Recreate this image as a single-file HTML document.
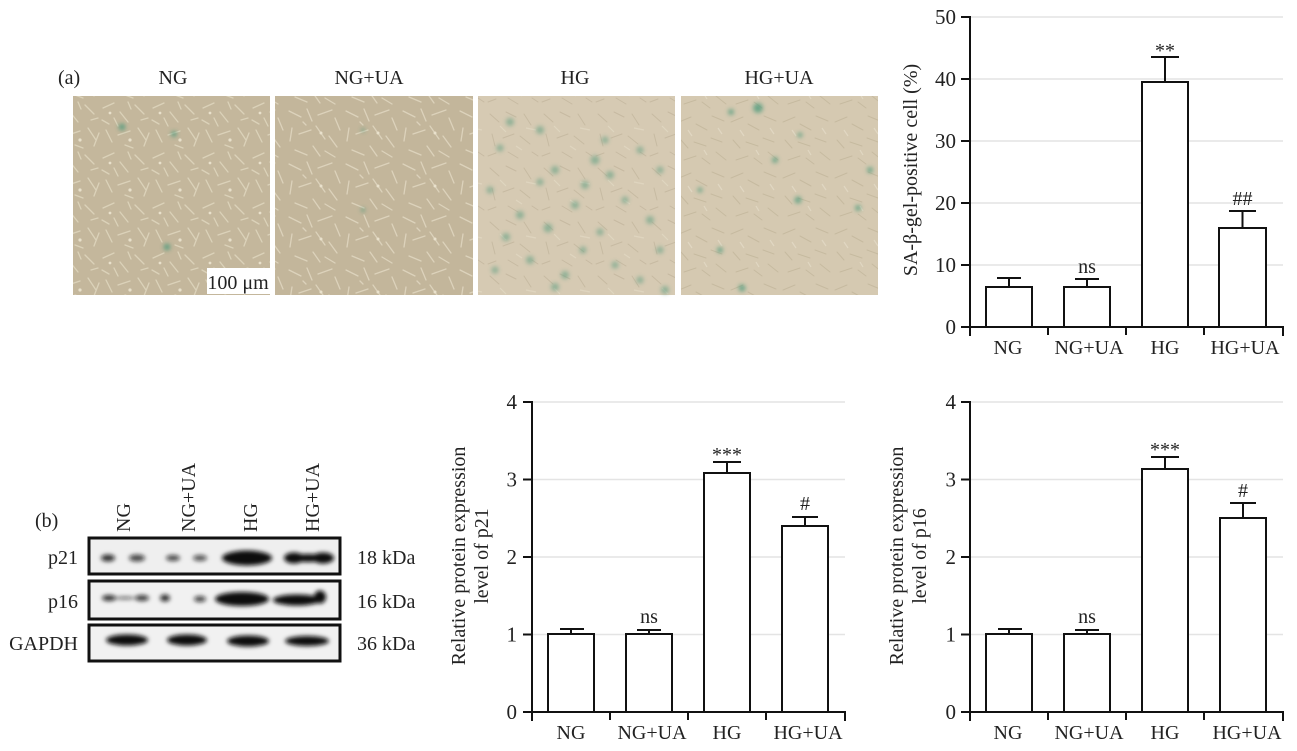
<!DOCTYPE html>
<html><head><meta charset="utf-8"><style>
html,body{margin:0;padding:0;background:#fff;}
svg{display:block;}
text{font-family:"Liberation Serif","DejaVu Serif",serif;fill:#222;}
</style></head><body>
<svg width="1297" height="751" viewBox="0 0 1297 751" xmlns="http://www.w3.org/2000/svg">
<defs>
<pattern id="pA" width="50" height="50" patternUnits="userSpaceOnUse">
<rect width="50" height="50" fill="#c4b79c"/>
<g stroke="#e6ddc6" stroke-width="1.3" stroke-linecap="round" fill="none" opacity="0.7">
<path d="M3 8 L14 3 M20 12 L28 22 M35 5 L44 14 M6 30 L12 42 M18 35 L30 31 M38 28 L46 40 M25 45 L33 48 M2 20 L9 24 M41 20 L48 18 M14 18 L18 26 M28 2 L31 9 M44 46 L49 33"/>
</g>
<circle cx="30" cy="40" r="1.6" fill="#e8e0ca"/><circle cx="10" cy="13" r="1.4" fill="#e8e0ca"/>
</pattern>
<pattern id="pB" width="57" height="53" patternUnits="userSpaceOnUse">
<rect width="57" height="53" fill="#c3b69b"/>
<g stroke="#e7dfc9" stroke-width="1.3" stroke-linecap="round" fill="none" opacity="0.7">
<path d="M4 5 L16 11 M22 3 L27 15 M33 9 L47 4 M50 12 L55 24 M7 22 L5 35 M14 28 L26 24 M31 20 L40 33 M44 30 L52 41 M10 44 L22 49 M28 40 L35 50 M40 45 L50 51 M18 16 L21 19"/>
</g>
<circle cx="36" cy="27" r="1.5" fill="#e9e1cc"/>
</pattern>
<pattern id="pC" width="54" height="54" patternUnits="userSpaceOnUse">
<rect width="54" height="54" fill="#d6cab3"/>
<g stroke="#b9ad93" stroke-width="1" stroke-linecap="round" fill="none" opacity="0.55">
<path d="M4 6 L13 14 M20 4 L30 9 M38 6 L45 17 M6 26 L9 38 M17 30 L28 26 M34 28 L44 36 M22 44 L32 50 M46 44 L52 48 M2 48 L10 45"/>
</g>
<g stroke="#e3dac5" stroke-width="1.2" fill="none" opacity="0.7"><path d="M14 18 L20 24 M40 20 L50 22 M30 38 L36 42"/></g>
</pattern>
<pattern id="pD" width="52" height="56" patternUnits="userSpaceOnUse">
<rect width="52" height="56" fill="#d5c9b1"/>
<g stroke="#bcb095" stroke-width="1" stroke-linecap="round" fill="none" opacity="0.6">
<path d="M3 10 L15 5 M20 12 L31 18 M36 4 L48 9 M5 28 L12 36 M18 30 L30 34 M35 26 L46 30 M8 48 L20 44 M26 46 L34 52 M40 40 L50 48"/>
</g>
<g stroke="#e6dec9" stroke-width="1.2" fill="none" opacity="0.7"><path d="M12 18 L16 24 M42 16 L46 22 M28 38 L31 43"/></g>
</pattern>
<filter id="bl" x="-30%" y="-80%" width="160%" height="260%"><feGaussianBlur stdDeviation="2.2"/></filter>
<filter id="bl2" x="-80%" y="-80%" width="260%" height="260%"><feGaussianBlur stdDeviation="2.2"/></filter>
</defs>

<!-- (a) titles -->
<text x="58" y="84" font-size="20">(a)</text>
<text x="173" y="84" font-size="20" text-anchor="middle">NG</text>
<text x="369" y="84" font-size="20" text-anchor="middle">NG+UA</text>
<text x="575" y="84" font-size="20" text-anchor="middle">HG</text>
<text x="779" y="84" font-size="20" text-anchor="middle">HG+UA</text>

<!-- micrographs -->
<rect x="73" y="96" width="197" height="199" fill="url(#pA)"/>
<rect x="275" y="96" width="198" height="199" fill="url(#pB)"/>
<rect x="478" y="96" width="197" height="199" fill="url(#pC)"/>
<rect x="681" y="96" width="197" height="199" fill="url(#pD)"/>
<g fill="#4f9a7c" filter="url(#bl2)" opacity="0.8">
<circle cx="122" cy="127" r="3.5"/><circle cx="174" cy="134" r="3"/><circle cx="167" cy="247" r="3.5"/>
<circle cx="363" cy="130" r="1.8"/><circle cx="363" cy="210" r="2"/>
</g>
<g fill="#5f9f82" filter="url(#bl2)" opacity="0.6">
<circle cx="510" cy="122" r="4"/><circle cx="540" cy="130" r="4"/><circle cx="500" cy="148" r="3.5"/><circle cx="555" cy="170" r="4"/><circle cx="595" cy="160" r="4.5"/><circle cx="610" cy="175" r="4"/><circle cx="640" cy="150" r="3.5"/>
<circle cx="540" cy="182" r="3.5"/><circle cx="585" cy="185" r="4"/><circle cx="625" cy="200" r="3.5"/><circle cx="520" cy="215" r="4"/><circle cx="575" cy="205" r="4"/><circle cx="605" cy="140" r="3.5"/><circle cx="660" cy="170" r="3.5"/>
<circle cx="506" cy="237" r="4"/><circle cx="548" cy="228" r="4.5"/><circle cx="600" cy="232" r="3.5"/><circle cx="650" cy="220" r="4"/><circle cx="660" cy="250" r="3.5"/><circle cx="490" cy="190" r="3.5"/>
<circle cx="530" cy="260" r="4"/><circle cx="565" cy="275" r="4"/><circle cx="615" cy="265" r="3.5"/><circle cx="495" cy="270" r="3.5"/><circle cx="555" cy="287" r="4"/><circle cx="665" cy="290" r="4"/><circle cx="640" cy="280" r="3.5"/><circle cx="583" cy="250" r="3.5"/>
</g>
<g fill="#3f9677" filter="url(#bl2)" opacity="0.7">
<circle cx="758" cy="108" r="5"/><circle cx="731" cy="112" r="3"/><circle cx="798" cy="200" r="3.5"/><circle cx="858" cy="208" r="3"/><circle cx="720" cy="250" r="3"/><circle cx="742" cy="288" r="3.5"/><circle cx="800" cy="135" r="2.5"/><circle cx="870" cy="170" r="3"/><circle cx="700" cy="190" r="2.5"/><circle cx="775" cy="160" r="3"/>
</g>
<rect x="207" y="268" width="63" height="26" fill="#fff"/>
<text x="238" y="289" font-size="20" text-anchor="middle">100 μm</text>

<!-- Top right chart -->
<g stroke="#e4e4e4" stroke-width="1.5">
<line x1="971" y1="17" x2="1283" y2="17"/><line x1="971" y1="79" x2="1283" y2="79"/><line x1="971" y1="141" x2="1283" y2="141"/><line x1="971" y1="203" x2="1283" y2="203"/><line x1="971" y1="265" x2="1283" y2="265"/>
</g>
<g stroke="#111" stroke-width="2" fill="none">
<line x1="970" y1="16" x2="970" y2="336"/>
<line x1="969" y1="327" x2="1284" y2="327"/>
<line x1="961" y1="17" x2="970" y2="17"/><line x1="961" y1="79" x2="970" y2="79"/><line x1="961" y1="141" x2="970" y2="141"/><line x1="961" y1="203" x2="970" y2="203"/><line x1="961" y1="265" x2="970" y2="265"/><line x1="961" y1="327" x2="970" y2="327"/>
<line x1="1048" y1="327" x2="1048" y2="335"/><line x1="1126" y1="327" x2="1126" y2="335"/><line x1="1204" y1="327" x2="1204" y2="335"/><line x1="1283" y1="327" x2="1283" y2="336"/>
<rect x="986" y="287" width="46" height="40" fill="#fff"/>
<rect x="1064" y="287" width="46" height="40" fill="#fff"/>
<rect x="1142" y="82" width="46" height="245" fill="#fff"/>
<rect x="1219" y="228" width="47" height="99" fill="#fff"/>
<path d="M1009 287 V278 M997 278 H1021"/>
<path d="M1087 287 V279 M1075 279 H1099"/>
<path d="M1165 82 V57 M1151 57 H1179"/>
<path d="M1242.5 228 V211 M1229 211 H1256"/>
</g>
<g font-size="21" text-anchor="end">
<text x="956" y="24">50</text><text x="956" y="86">40</text><text x="956" y="148">30</text><text x="956" y="210">20</text><text x="956" y="272">10</text><text x="956" y="334">0</text>
</g>
<g font-size="20" text-anchor="middle">
<text x="1008" y="354">NG</text><text x="1089" y="354">NG+UA</text><text x="1165" y="354">HG</text><text x="1245" y="354">HG+UA</text>
<text x="1087" y="273">ns</text><text x="1165" y="57">**</text><text x="1242.5" y="205">##</text>
</g>
<text transform="translate(917,170) rotate(-90)" font-size="20" text-anchor="middle">SA-β-gel-positive cell (%)</text>

<!-- (b) western blot -->
<text x="35" y="527" font-size="20">(b)</text>
<g font-size="20">
<text transform="translate(130,532) rotate(-90)">NG</text>
<text transform="translate(195,532) rotate(-90)">NG+UA</text>
<text transform="translate(257,532) rotate(-90)">HG</text>
<text transform="translate(319,532) rotate(-90)">HG+UA</text>
</g>
<g font-size="20" text-anchor="end">
<text x="78" y="564">p21</text><text x="78" y="608">p16</text><text x="78" y="650">GAPDH</text>
</g>
<g font-size="20">
<text x="357" y="564">18 kDa</text><text x="357" y="608">16 kDa</text><text x="357" y="650">36 kDa</text>
</g>
<rect x="89" y="538" width="251" height="36" fill="#efefef" stroke="#111" stroke-width="3"/>
<rect x="89" y="581" width="251" height="38" fill="#f1f1f1" stroke="#111" stroke-width="3"/>
<rect x="89" y="625" width="251" height="36" fill="#f1f1f1" stroke="#111" stroke-width="3"/>
<g fill="#111" filter="url(#bl)">
<ellipse cx="108" cy="558" rx="7" ry="3.5" opacity="0.85"/><ellipse cx="137" cy="558" rx="8" ry="3.5" opacity="0.75"/>
<ellipse cx="173" cy="558" rx="7" ry="3" opacity="0.75"/><ellipse cx="200" cy="558" rx="7" ry="3" opacity="0.7"/>
<ellipse cx="247" cy="558" rx="25" ry="7.5"/>
<ellipse cx="294" cy="558" rx="10" ry="5.5"/><ellipse cx="323" cy="558" rx="11" ry="5.5"/><ellipse cx="308" cy="558" rx="16" ry="4"/>
<ellipse cx="109" cy="598" rx="7" ry="3" opacity="0.85"/><ellipse cx="125" cy="598" rx="10" ry="1.5" opacity="0.6"/><ellipse cx="142" cy="598" rx="7" ry="3" opacity="0.8"/>
<ellipse cx="165" cy="598" rx="5" ry="3.5" opacity="0.85"/><ellipse cx="200" cy="599" rx="6" ry="3" opacity="0.75"/>
<ellipse cx="242" cy="599" rx="27" ry="7"/>
<ellipse cx="297" cy="600" rx="24" ry="5.5"/><ellipse cx="320" cy="597" rx="6" ry="6.5"/>
<ellipse cx="127" cy="640" rx="21" ry="5.5"/>
<ellipse cx="187" cy="640" rx="20" ry="5.5"/>
<ellipse cx="248" cy="641" rx="21" ry="5.5"/>
<ellipse cx="307" cy="641" rx="22" ry="5"/>
</g>

<!-- p21 chart -->
<g stroke="#e4e4e4" stroke-width="1.5">
<line x1="533" y1="402" x2="845" y2="402"/><line x1="533" y1="479.5" x2="845" y2="479.5"/><line x1="533" y1="557" x2="845" y2="557"/><line x1="533" y1="634.5" x2="845" y2="634.5"/>
</g>
<g stroke="#111" stroke-width="2" fill="none">
<line x1="532" y1="401" x2="532" y2="721"/>
<line x1="531" y1="712" x2="846" y2="712"/>
<line x1="523" y1="402" x2="532" y2="402"/><line x1="523" y1="479.5" x2="532" y2="479.5"/><line x1="523" y1="557" x2="532" y2="557"/><line x1="523" y1="634.5" x2="532" y2="634.5"/><line x1="523" y1="712" x2="532" y2="712"/>
<line x1="610" y1="712" x2="610" y2="720"/><line x1="688" y1="712" x2="688" y2="720"/><line x1="766" y1="712" x2="766" y2="720"/><line x1="845" y1="712" x2="845" y2="721"/>
<rect x="548" y="634" width="46" height="78" fill="#fff"/>
<rect x="626" y="634" width="46" height="78" fill="#fff"/>
<rect x="704" y="473" width="46" height="239" fill="#fff"/>
<rect x="782" y="526" width="46" height="186" fill="#fff"/>
<path d="M571 634 V629 M560 629 H584"/>
<path d="M649 634 V630 M637 630 H661"/>
<path d="M727 473 V462 M713 462 H741"/>
<path d="M805 526 V517 M792 517 H818"/>
</g>
<g font-size="21" text-anchor="end">
<text x="517" y="409">4</text><text x="517" y="486.5">3</text><text x="517" y="564">2</text><text x="517" y="641.5">1</text><text x="517" y="719">0</text>
</g>
<g font-size="20" text-anchor="middle">
<text x="571" y="739">NG</text><text x="652" y="739">NG+UA</text><text x="727" y="739">HG</text><text x="808" y="739">HG+UA</text>
<text x="649" y="623">ns</text><text x="727" y="461">***</text><text x="805" y="510">#</text>
</g>
<g font-size="20" text-anchor="middle">
<text transform="translate(465,556) rotate(-90)">Relative protein expression</text>
<text transform="translate(488,556) rotate(-90)">level of p21</text>
</g>

<!-- p16 chart -->
<g stroke="#e4e4e4" stroke-width="1.5">
<line x1="971" y1="402" x2="1283" y2="402"/><line x1="971" y1="479.5" x2="1283" y2="479.5"/><line x1="971" y1="557" x2="1283" y2="557"/><line x1="971" y1="634.5" x2="1283" y2="634.5"/>
</g>
<g stroke="#111" stroke-width="2" fill="none">
<line x1="970" y1="401" x2="970" y2="721"/>
<line x1="969" y1="712" x2="1284" y2="712"/>
<line x1="961" y1="402" x2="970" y2="402"/><line x1="961" y1="479.5" x2="970" y2="479.5"/><line x1="961" y1="557" x2="970" y2="557"/><line x1="961" y1="634.5" x2="970" y2="634.5"/><line x1="961" y1="712" x2="970" y2="712"/>
<line x1="1048" y1="712" x2="1048" y2="720"/><line x1="1126" y1="712" x2="1126" y2="720"/><line x1="1204" y1="712" x2="1204" y2="720"/><line x1="1283" y1="712" x2="1283" y2="721"/>
<rect x="986" y="634" width="46" height="78" fill="#fff"/>
<rect x="1064" y="634" width="46" height="78" fill="#fff"/>
<rect x="1142" y="469" width="46" height="243" fill="#fff"/>
<rect x="1220" y="518" width="46" height="194" fill="#fff"/>
<path d="M1009 634 V629 M998 629 H1022"/>
<path d="M1087 634 V630 M1075 630 H1099"/>
<path d="M1165 469 V457 M1151 457 H1179"/>
<path d="M1243 518 V503 M1230 503 H1256"/>
</g>
<g font-size="21" text-anchor="end">
<text x="956" y="409">4</text><text x="956" y="486.5">3</text><text x="956" y="564">2</text><text x="956" y="641.5">1</text><text x="956" y="719">0</text>
</g>
<g font-size="20" text-anchor="middle">
<text x="1008" y="739">NG</text><text x="1089" y="739">NG+UA</text><text x="1165" y="739">HG</text><text x="1247" y="739">HG+UA</text>
<text x="1087" y="623">ns</text><text x="1165" y="456">***</text><text x="1243" y="497">#</text>
</g>
<g font-size="20" text-anchor="middle">
<text transform="translate(903,556) rotate(-90)">Relative protein expression</text>
<text transform="translate(926,556) rotate(-90)">level of p16</text>
</g>
</svg>
</body></html>
